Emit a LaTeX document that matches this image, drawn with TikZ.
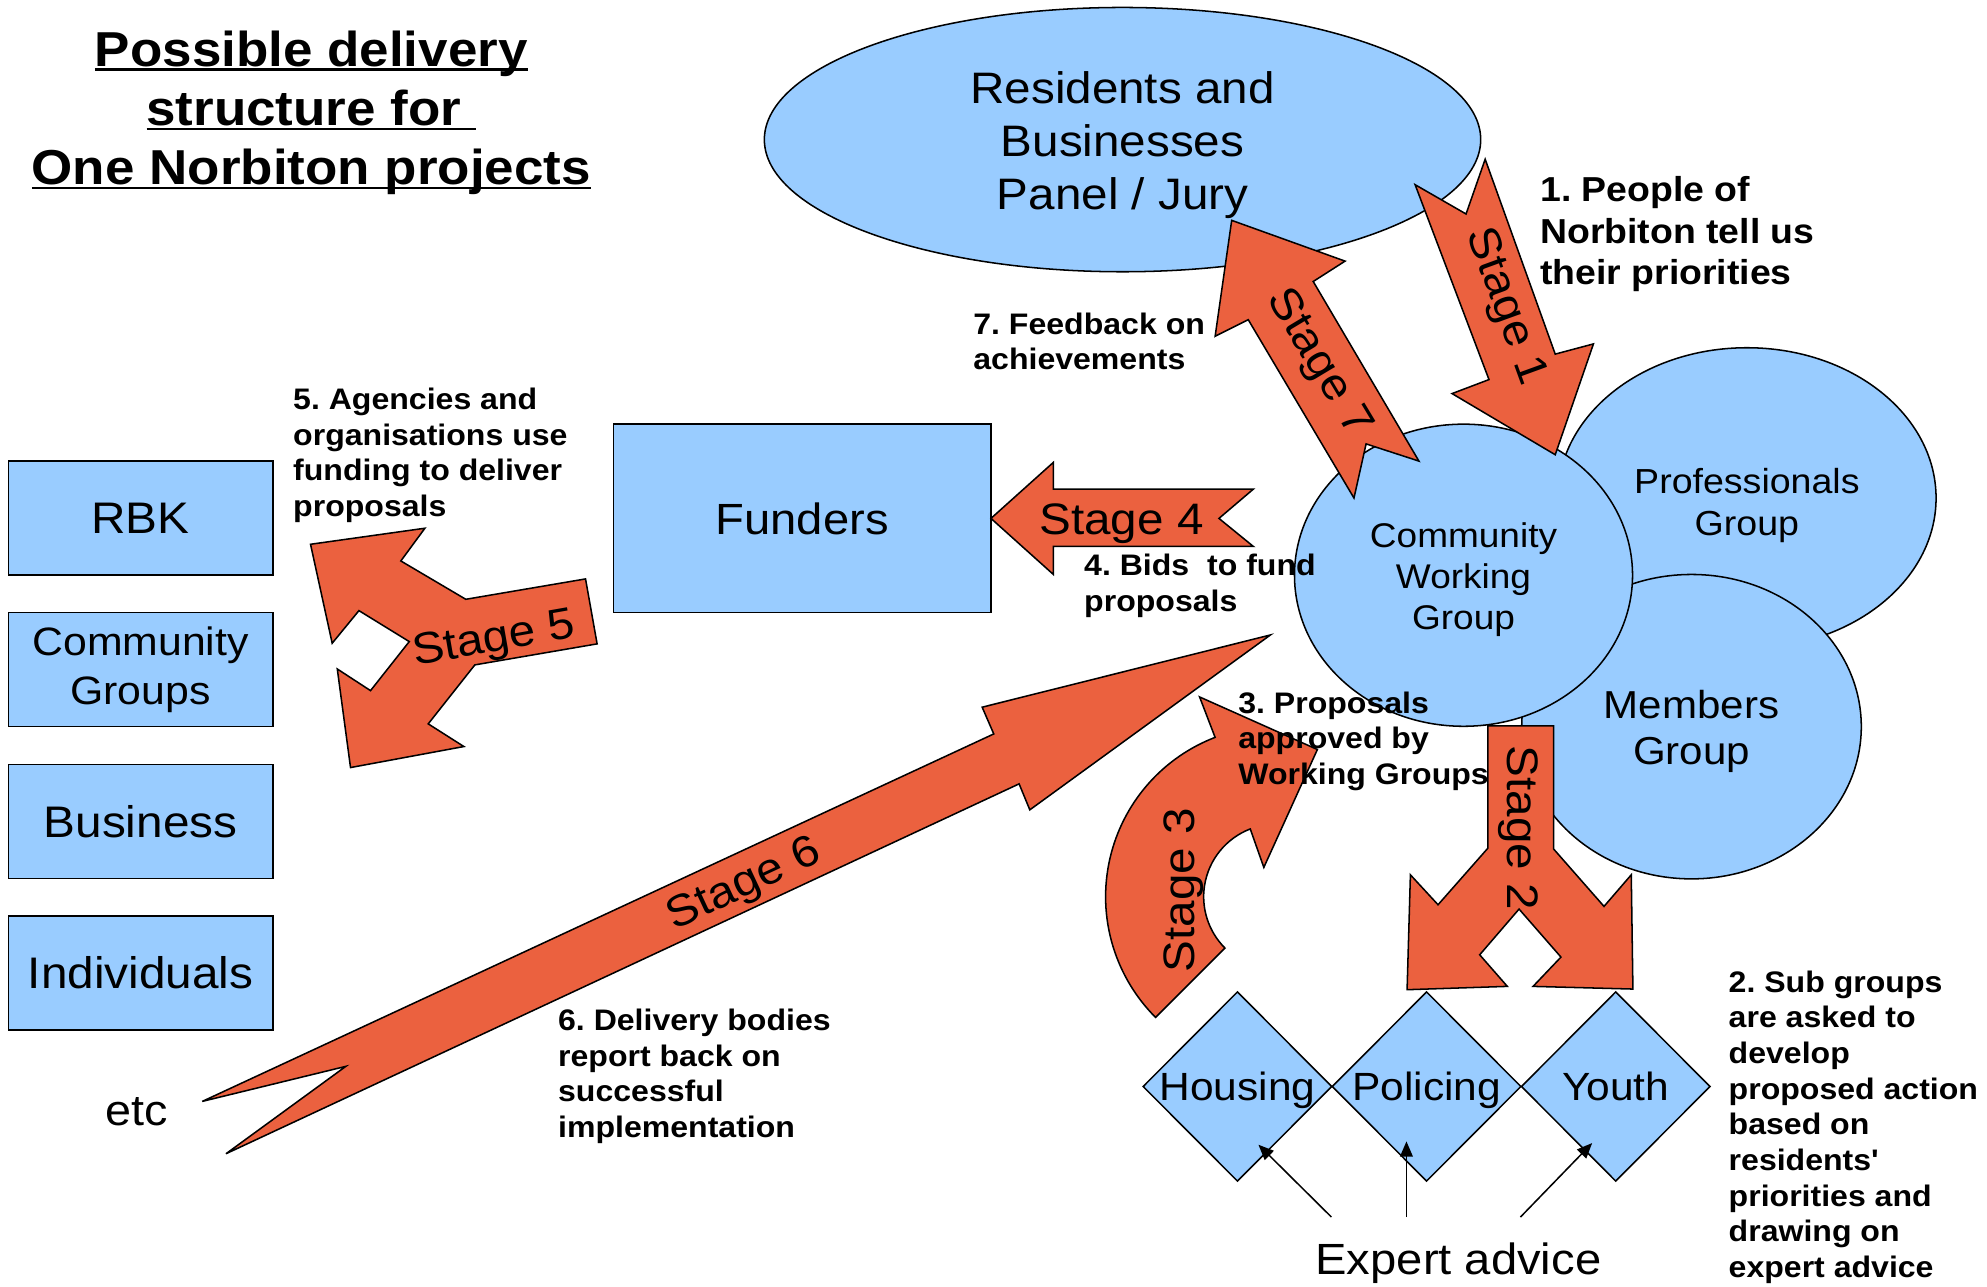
\documentclass[tikz,border=0pt]{standalone}
\usepackage{fontspec}
\setmainfont{Liberation Sans}[FakeStretch=1.08]
\usetikzlibrary{shapes.geometric}
\usetikzlibrary{arrows.meta}
\usetikzlibrary{calc}
\definecolor{skyblue}{RGB}{153,204,255}
\definecolor{stageorange}{RGB}{235,97,63}
\frenchspacing
\newcommand{\fsize}[2]{\fontsize{#1}{#2}\selectfont}
\newcommand{\titleline}[1]{\setbox0\hbox{#1}\rlap{\rule[-3.8pt]{\wd0}{2pt}}\box0}
\tikzset{
    panel/.style={draw, fill=skyblue, line width=1.2pt, inner sep=0pt},
    stagearrow/.style={draw, fill=stageorange, line width=1.2pt, line join=miter},
    stagelabel/.style={font=\fsize{34.6}{40}, inner sep=0pt},
    note/.style={font=\bfseries\fsize{23.3}{28}, align=left, anchor=west, inner sep=0pt},
    advice/.style={line width=1.2pt, -{Triangle[length=12pt,width=10pt]}}
}

\begin{document}
\begin{tikzpicture}[x=1pt, y=-1pt]
\useasboundingbox (0,0) rectangle (1560,1010.4);
% title
\node[font=\bfseries\fsize{38.5}{46.5}, align=center, inner sep=0pt] (title) at (244.4,88.5) {\titleline{Possible delivery}\\\titleline{structure for\rule{0.3em}{0pt}}\\\titleline{One Norbiton projects}};
% panel, funders, delivery bodies
\node[panel, ellipse, minimum width=562.4, minimum height=207.5, label={[font=\fsize{34.6}{41.5}, align=center, yshift=-4.4pt]center:Residents and\\Businesses\\Panel / Jury}] (panel) at (881.3,109.6) {};
\node[panel, minimum width=296.5, minimum height=148, font=\fsize{34.3}{40}] (funders) at (629.8,407) {Funders};
\foreach \y/\name/\f/\txt in {406.65/rbk/34.7/RBK, 525.65/cgroups/31.1/{Community\\Groups}, 644.9/business/34.7/Business, 763.8/indiv/34.7/Individuals}{
    \node[panel, minimum width=207.7, minimum height=89.3, align=center, font=\fsize{\f}{38.8}] (\name) at (110.35,\y) {\txt};
}
% working groups
\node[panel, ellipse, minimum width=297, minimum height=236, label={[font=\fsize{27.3}{32.6}, align=center, yshift=-5.8pt]center:Professionals\\Group}] (prof) at (1371.5,391) {};
\node[panel, ellipse, minimum width=266.6, minimum height=239, label={[font=\fsize{30.6}{35.8}, align=center, yshift=-3.8pt]center:Members\\Group}] (members) at (1328,570.5) {};
\node[panel, ellipse, minimum width=265.4, minimum height=237.2, label={[font=\fsize{26.9}{32}, align=center, yshift=-3.4pt]center:Community\\Working\\Group}] (cwg) at (1149,451.6) {};
% sub groups
\foreach \x/\name/\txt in {971.5/housing/Housing, 1120/policing/Policing, 1268.5/youth/Youth}{
    \node[panel, diamond, minimum width=148.5, minimum height=149, label={[font=\fsize{30.9}{36}, text depth=0pt]center:\txt}] (\name) at (\x,853) {};
}
\node[font=\fsize{34.3}{40}, text depth=0pt, inner sep=0pt] (expert) at (1145,988) {Expert advice};
\node[font=\fsize{34}{40}, inner sep=0pt] (etc) at (107,873) {etc};
% stage arrows
\draw[stagearrow] (1111,145) -- (1151,168) -- (1166,125) -- (1221,278) -- (1251,270) -- (1221,357) -- (1140,309) -- (1169,298) -- cycle;
\draw[stagearrow] (1168.2,569.8) -- (1219.8,569.8) -- (1219.8,666.6) -- (1259.3,711.6) -- (1280.7,686.8) -- (1282,776.5) -- (1203.6,774.4) -- (1225.5,751.4) -- (1192.6,713.7) -- (1161.7,749.6) -- (1183.4,774.4) -- (1104.7,777) -- (1107.3,686.8) -- (1129,710.3) -- (1168.2,665.8) -- cycle;
\coordinate (turn) at (1002,704);
\draw[stagearrow] ($(turn)+(-225:134)$) arc[start angle=-225, end angle=-111, radius=134] -- ($(turn)+(-111:168)$) -- ($(turn)+(-74.4:120)$) -- ($(turn)+(-113:25)$) -- ($(turn)+(-111:57)$) arc[start angle=-111, end angle=-225, radius=57] -- cycle;
\draw[stagearrow] (778,407) -- (827,363) -- (827,384) -- (984,384) -- (957,407) -- (984,429) -- (827,429) -- (827,451) -- cycle;
\draw[stagearrow] (243.8,427.3) -- (333.6,414.7) -- (314.7,440.4) -- (365.7,470.5) -- (459.7,454.5) -- (468.8,505.5) -- (372.8,522) -- (336.2,568.3) -- (364.2,586.1) -- (275.2,602.6) -- (264.8,525.2) -- (290.9,542.2) -- (321.3,503.7) -- (281.8,479.4) -- (260.8,505) -- cycle;
\draw[stagearrow] (158.8,864.7) -- (780.2,576.2) -- (771.1,555.2) -- (997.4,498.5) -- (808.5,635.8) -- (800.1,615.4) -- (177.4,905.8) -- (271.5,837.2) -- cycle;
\draw[stagearrow] (967,173) -- (1056,205) -- (1031,221) -- (1114,362) -- (1072.5,348.5) -- (1063,391) -- (980,251) -- (954,264) -- cycle;
\node[stagelabel, rotate=-70] (s1) at (1181.5,241) {Stage 1};
\node[stagelabel, rotate=-90] (s2) at (1192.3,650) {Stage 2};
\node[stagelabel, rotate=90] (s3) at (929,699) {Stage 3};
\node[stagelabel] (s4) at (880.5,411) {Stage 4};
\node[stagelabel, rotate=10] (s5) at (388,503) {Stage 5};
\node[stagelabel, rotate=25] (s6) at (584.4,695.3) {Stage 6};
\node[stagelabel, rotate=-59] (s7) at (1035,285) {Stage 7};
% notes
\node[note, font=\bfseries\fsize{27.2}{32.5}] (note1) at (1209,184) {1. People of\\Norbiton tell us\\their priorities};
\node[note] (note2) at (1357,885) {2. Sub groups\\are asked to\\develop\\proposed action\\based on\\residents\textquotesingle\\priorities and\\drawing on\\expert advice};
\node[note] (note3) at (972,582) {3. Proposals\\approved by\\Working Groups};
\node[note] (note4) at (851,460) {4. Bids \ to fund\\proposals};
\node[note] (note5) at (230,357.5) {5. Agencies and\\organisations use\\funding to deliver\\proposals};
\node[note] (note6) at (438,845) {6. Delivery bodies\\report back on\\successful\\implementation};
\node[note] (note7) at (764,268) {7. Feedback on\\achievements};
% expert advice arrows
\coordinate (adv-h) at (1045.3,955.5);
\coordinate (adv-p) at (1104.2,955.5);
\coordinate (adv-y) at (1193.7,955.5);
\coordinate (tip-h) at (988,898.7);
\coordinate (tip-p) at (1104.2,896.1);
\coordinate (tip-y) at (1250,897.4);
\foreach \s in {h,p,y}{
    \draw[advice] (adv-\s) -- (tip-\s);
}
\end{tikzpicture}
\end{document}
